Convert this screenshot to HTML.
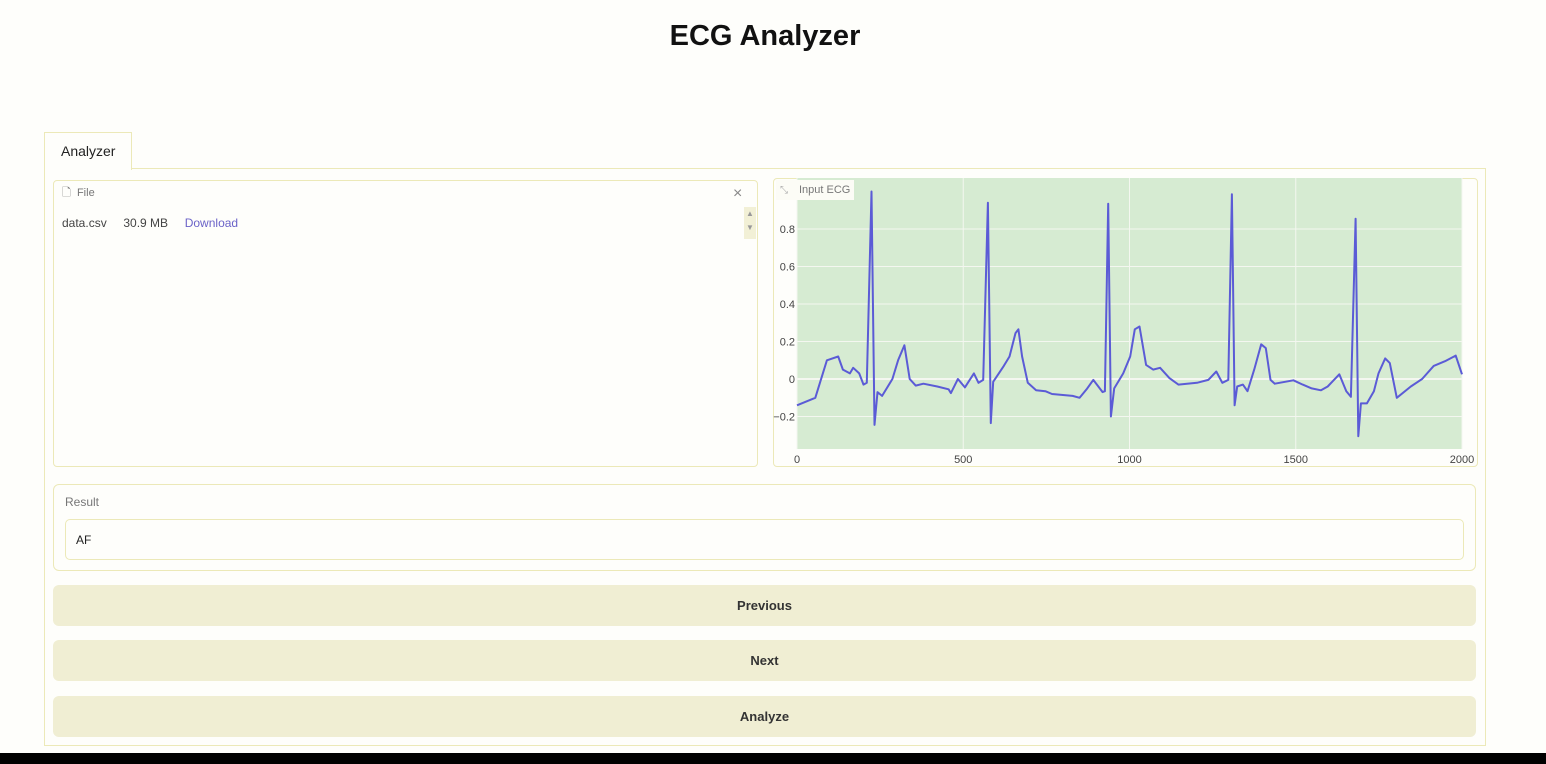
<!DOCTYPE html>
<html><head><meta charset="utf-8"><style>
body{margin:0;width:1546px;height:764px;background:#fefefb;font-family:"Liberation Sans",sans-serif;position:relative;overflow:hidden;color:#222}
.abs{position:absolute;box-sizing:border-box}
.bd{border:1px solid #ece9b8}
.btn{background:#f0eed3;border-radius:6px;font-weight:bold;font-size:13px;color:#333;display:flex;align-items:center;justify-content:center}
</style></head><body>
<div class="abs" style="left:0;top:20px;width:1530px;text-align:center;font-size:29px;font-weight:bold;color:#111">ECG Analyzer</div>
<div class="abs bd" style="left:44px;top:132px;width:88px;height:38px;border-bottom:none;background:#fefefb;z-index:2;font-size:14px;padding:10px 0 0 16px">Analyzer</div>
<div class="abs bd" style="left:44px;top:168px;width:1442px;height:578px"></div>
<div class="abs bd" style="left:53px;top:180px;width:705px;height:287px;border-radius:4px">
 <div class="abs" style="left:8px;top:3px;font-size:11px;color:#777">🗋&nbsp; File</div>
 <div class="abs" style="left:679px;top:4px;font-size:16px;color:#888">×</div>
 <div class="abs" style="left:690px;top:26px;width:12px;height:32px;background:#f2f0d6;font-size:8px;color:#999;text-align:center;line-height:14px">▲<br>▼</div>
 <div class="abs" style="left:8px;top:35px;font-size:12px;color:#444">data.csv&nbsp;&nbsp;&nbsp;&nbsp;&nbsp;30.9 MB&nbsp;&nbsp;&nbsp;&nbsp;&nbsp;<span style="color:#6b63c8">Download</span></div>
</div>
<div class="abs bd" style="left:773px;top:178px;width:705px;height:289px;border-radius:4px"></div>
<svg class="abs" style="left:0;top:0" width="1546" height="764" id="chart"></svg>
<div class="abs bd" style="left:53px;top:484px;width:1423px;height:87px;border-radius:6px">
 <div class="abs" style="left:11px;top:10px;font-size:12px;color:#777">Result</div>
 <div class="abs bd" style="left:11px;top:34px;width:1399px;height:41px;border-radius:5px;font-size:12px;padding:13px 10px">AF</div>
</div>
<div class="abs btn" style="left:53px;top:585px;width:1423px;height:41px">Previous</div>
<div class="abs btn" style="left:53px;top:640px;width:1423px;height:41px">Next</div>
<div class="abs btn" style="left:53px;top:696px;width:1423px;height:41px">Analyze</div>
<div class="abs" style="left:0;top:753px;width:1546px;height:11px;background:#000"></div>
<script>
const xs=[0,55,90,124,138,159,169,187,200,210,224,233,242,256,287,304,323,339,357,380,422,456,463,484,505,532,546,560,574,583,590,622,639,657,666,677,694,719,747,767,829,850,871,891,919,926,936,944,954,981,1002,1016,1030,1050,1071,1092,1120,1147,1203,1237,1261,1279,1297,1308,1316,1324,1341,1355,1375,1396,1410,1424,1437,1493,1521,1548,1576,1596,1631,1652,1666,1680,1688,1696,1714,1735,1749,1769,1783,1804,1846,1880,1915,1949,1981,2000];
const ys=[-0.14,-0.10,0.10,0.12,0.05,0.03,0.06,0.03,-0.03,-0.02,1.0,-0.245,-0.07,-0.09,0.0,0.10,0.18,0.0,-0.035,-0.025,-0.04,-0.055,-0.075,0.0,-0.045,0.03,-0.02,-0.005,0.94,-0.235,-0.015,0.07,0.12,0.245,0.265,0.12,-0.02,-0.06,-0.065,-0.08,-0.09,-0.10,-0.055,-0.005,-0.07,-0.065,0.935,-0.2,-0.05,0.03,0.12,0.265,0.28,0.075,0.05,0.06,0.005,-0.03,-0.02,-0.005,0.04,-0.02,-0.005,0.985,-0.14,-0.04,-0.03,-0.065,0.05,0.185,0.165,-0.005,-0.025,-0.007,-0.03,-0.05,-0.06,-0.04,0.025,-0.065,-0.095,0.855,-0.305,-0.13,-0.13,-0.065,0.03,0.11,0.085,-0.1,-0.04,0.0,0.07,0.095,0.125,0.025];
const xTicks=[0,500,1000,1500,2000];
const yTicks=[-0.2,0,0.2,0.4,0.6,0.8];
const NS="http://www.w3.org/2000/svg";
const svg=document.getElementById('chart');
const X=v=>797+v/2000*665, Y=v=>379-v/0.2*37.5;
function mk(t,a){const e=document.createElementNS(NS,t);for(const k in a)e.setAttribute(k,a[k]);svg.appendChild(e);return e;}
const bg=mk('rect',{x:797,y:178,width:665,height:271,fill:'#d6ebd2'});


xTicks.forEach(t=>{const l=mk('line',{x1:X(t),x2:X(t),y1:178,y2:449,stroke:'#f4f7f0','stroke-width':1});


const tx=mk('text',{x:X(t),y:463,'text-anchor':'middle','font-size':11,fill:'#444','font-family':'Liberation Sans'});tx.textContent=t;

});
yTicks.forEach(t=>{const l=mk('line',{x1:797,x2:1462,y1:Y(t),y2:Y(t),stroke:'#f4f7f0','stroke-width':t===0?2:1});


const tx=mk('text',{x:795,y:Y(t)+4,'text-anchor':'end','font-size':11,fill:'#444','font-family':'Liberation Sans'});tx.textContent=t===0?'0':(t<0?'−'+Math.abs(t):t);

});
const lb=mk('rect',{x:776,y:180,width:78,height:20,fill:'#fcfcf6'});


const lt=mk('text',{x:799,y:193,'font-size':11,fill:'#777','font-family':'Liberation Sans'});lt.textContent='Input ECG';


const ic=mk('text',{x:780,y:193,'font-size':10,fill:'#aaa'});ic.textContent='⤡';


const p=mk('path',{d:xs.map((x,i)=>(i?'L':'M')+X(x).toFixed(1)+' '+Y(ys[i]).toFixed(1)).join(''),fill:'none',stroke:'#5b5bd6','stroke-width':2,'stroke-linejoin':'round'});


</script>
</body></html>
